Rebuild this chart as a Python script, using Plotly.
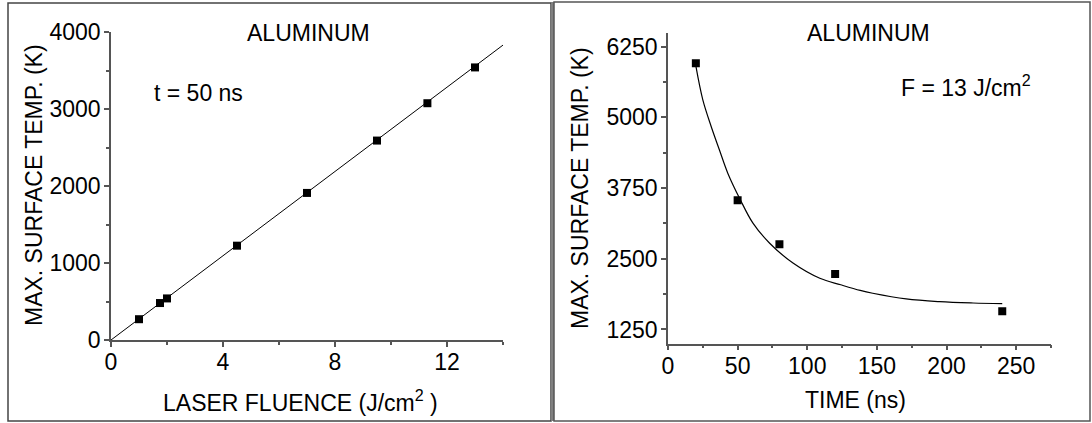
import plotly.graph_objects as go

W, H = 1092, 423

# ---- data: left panel (t = 50 ns) ----
fluence = [1.0, 1.75, 2.0, 4.5, 7.0, 9.5, 11.3, 13.0]
temp_fluence = [270, 480, 540, 1225, 1910, 2590, 3075, 3540]
fit_fluence = [0, 14]
fit_temp_fluence = [0, 3830]

# ---- data: right panel (F = 13 J/cm2) ----
time_ns = [20, 50, 80, 120, 240]
temp_time = [5957, 3534, 2756, 2231, 1572]
fit_time = [20, 25, 31, 37, 43, 52, 61, 73, 90, 109, 124, 138, 147, 171, 195, 219, 240]
fit_temp_time = [5910, 5310, 4840, 4420, 4010, 3540, 3130, 2775, 2420, 2155, 2040,
                 1940, 1890, 1790, 1742, 1718, 1706]

left_xticks = [0, 4, 8, 12]
left_yticks = [0, 1000, 2000, 3000, 4000]
right_xticks = [0, 50, 100, 150, 200, 250]
right_yticks = [1250, 2500, 3750, 5000, 6250]

FONT = "Liberation Sans, Arial, sans-serif"
FS = 23
AX = "#555555"


def px(x):
    return x / W


def py(y):
    return 1 - y / H


fig = go.Figure()

fig.add_trace(go.Scatter(x=fit_fluence, y=fit_temp_fluence, mode="lines",
                         line=dict(color="black", width=1), xaxis="x", yaxis="y",
                         showlegend=False, hoverinfo="skip"))
fig.add_trace(go.Scatter(x=fluence, y=temp_fluence, mode="markers",
                         marker=dict(symbol="square", size=8, color="black"),
                         xaxis="x", yaxis="y", showlegend=False))
fig.add_trace(go.Scatter(x=fit_time, y=fit_temp_time, mode="lines",
                         line=dict(color="black", width=1.2, shape="spline", smoothing=1.0),
                         xaxis="x2", yaxis="y2", showlegend=False, hoverinfo="skip"))
fig.add_trace(go.Scatter(x=time_ns, y=temp_time, mode="markers",
                         marker=dict(symbol="square", size=8, color="black"),
                         xaxis="x2", yaxis="y2", showlegend=False))

axis_common = dict(showgrid=False, zeroline=False, showline=True, linecolor=AX,
                   linewidth=1.5, ticks="outside", ticklen=5, tickwidth=1.5,
                   tickcolor=AX, automargin=False,
                   tickfont=dict(family=FONT, size=FS, color="black"))

fig.update_layout(
    width=W, height=H,
    margin=dict(l=0, r=0, t=0, b=0, pad=0, autoexpand=False),
    paper_bgcolor="white", plot_bgcolor="white",
    font=dict(family=FONT, size=FS, color="black"),
    xaxis=dict(domain=[px(111), px(503)], range=[0, 14], anchor="y",
               tickvals=left_xticks, ticklabelstandoff=-4,
               minor=dict(ticks="outside", ticklen=3, tickcolor=AX, tick0=2, dtick=4),
               **axis_common),
    yaxis=dict(domain=[py(340), py(32)], range=[0, 4000], anchor="x",
               tickvals=left_yticks, ticklabelstandoff=-1,
               minor=dict(ticks="outside", ticklen=3, tickcolor=AX, tick0=500, dtick=1000),
               **axis_common),
    xaxis2=dict(domain=[px(668), px(1051)], range=[0, 275], anchor="y2",
                tickvals=right_xticks, ticklabelstandoff=-4,
                minor=dict(ticks="outside", ticklen=3, tickcolor=AX, tick0=25, dtick=50),
                **axis_common),
    yaxis2=dict(domain=[py(343.6), py(32.6)], range=[1000, 6500], anchor="x2",
                tickvals=right_yticks, ticklabelstandoff=-1,
                minor=dict(ticks="outside", ticklen=3, tickcolor=AX, tick0=625, dtick=1250),
                **axis_common),
)

ann = []


def add_text(text, x, y, xanchor="center", angle=0):
    ann.append(dict(text=text, x=px(x), y=py(y), xref="paper", yref="paper",
                    xanchor=xanchor, yanchor="middle", showarrow=False, textangle=angle,
                    font=dict(family=FONT, size=FS, color="black")))


add_text("ALUMINUM", 308, 33)
add_text("ALUMINUM", 868, 33)
add_text("t = 50 ns", 152, 93, xanchor="left")
add_text("F = 13 J/cm<sup>2</sup>", 1033, 86, xanchor="right")
add_text("MAX. SURFACE TEMP. (K)", 34, 185, angle=-90)
add_text("MAX. SURFACE TEMP. (K)", 580, 188, angle=-90)
add_text("LASER FLUENCE (J/cm<sup>2</sup> )", 300, 401)
add_text("TIME (ns)", 855, 400)
fig.update_layout(annotations=ann)

shapes = [
    dict(type="rect", xref="paper", yref="paper", x0=px(8), x1=px(551), y0=py(421), y1=py(3),
         line=dict(color="#444444", width=1.5)),
    dict(type="rect", xref="paper", yref="paper", x0=px(551), x1=px(554), y0=py(421), y1=py(2),
         line=dict(width=0), fillcolor="#808080"),
    dict(type="rect", xref="paper", yref="paper", x0=px(554), x1=px(1090), y0=py(421), y1=py(2),
         line=dict(color="#555555", width=1.5)),
]
fig.update_layout(shapes=shapes)

fig.write_html("out.html")
